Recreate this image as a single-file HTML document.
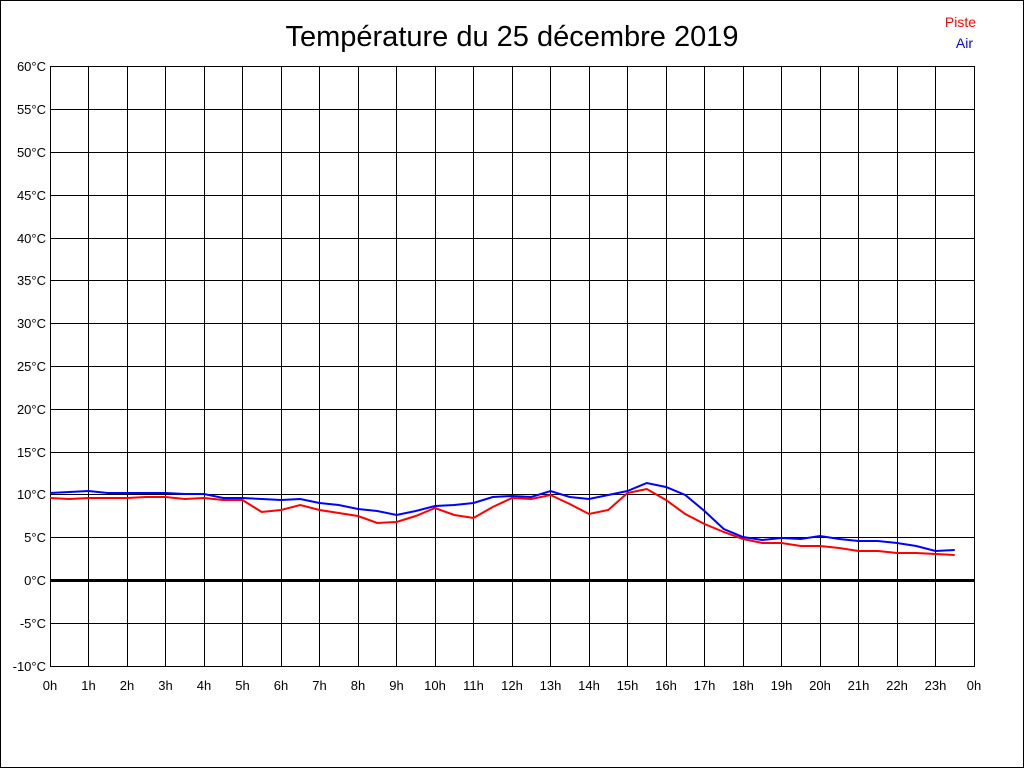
<!DOCTYPE html>
<html><head><meta charset="utf-8"><style>html,body{margin:0;padding:0;background:#fff}svg{display:block}</style></head>
<body>
<svg width="1024" height="768" xmlns="http://www.w3.org/2000/svg" font-family="Liberation Sans, sans-serif">
<rect x="0.5" y="0.5" width="1023" height="767" fill="#fff" stroke="#000"/>
<text x="512" y="46" font-size="29" text-anchor="middle" fill="#000">Température du 25 décembre 2019</text>
<text x="976" y="27" font-size="14" text-anchor="end" fill="#f00">Piste</text>
<text x="973" y="48" font-size="14" text-anchor="end" fill="#00f">Air</text>
<g stroke="#000" stroke-width="1" shape-rendering="crispEdges">
<path d="M50.5 66V666M88.5 66V666M127.5 66V666M165.5 66V666M204.5 66V666M242.5 66V666M281.5 66V666M319.5 66V666M358.5 66V666M396.5 66V666M435.5 66V666M473.5 66V666M512.5 66V666M550.5 66V666M589.5 66V666M627.5 66V666M666.5 66V666M704.5 66V666M743.5 66V666M781.5 66V666M820.5 66V666M858.5 66V666M897.5 66V666M935.5 66V666M974.5 66V666"/>
<path d="M50 66.5H975M50 109.5H975M50 152.5H975M50 195.5H975M50 238.5H975M50 280.5H975M50 323.5H975M50 366.5H975M50 409.5H975M50 452.5H975M50 494.5H975M50 537.5H975M50 623.5H975M50 666.5H975"/>
</g>
<rect x="50" y="579" width="925" height="3" fill="#000"/>
<g font-size="13" text-anchor="end" fill="#000">
<text x="46" y="71">60°C</text><text x="46" y="114">55°C</text><text x="46" y="157">50°C</text><text x="46" y="200">45°C</text><text x="46" y="243">40°C</text><text x="46" y="285">35°C</text><text x="46" y="328">30°C</text><text x="46" y="371">25°C</text><text x="46" y="414">20°C</text><text x="46" y="457">15°C</text><text x="46" y="499">10°C</text><text x="46" y="542">5°C</text><text x="46" y="585">0°C</text><text x="46" y="628">-5°C</text><text x="46" y="671">-10°C</text>
</g>
<g font-size="13" text-anchor="middle" fill="#000">
<text x="50" y="690">0h</text><text x="88.5" y="690">1h</text><text x="127" y="690">2h</text><text x="165.5" y="690">3h</text><text x="204" y="690">4h</text><text x="242.5" y="690">5h</text><text x="281" y="690">6h</text><text x="319.5" y="690">7h</text><text x="358" y="690">8h</text><text x="396.5" y="690">9h</text><text x="435" y="690">10h</text><text x="473.5" y="690">11h</text><text x="512" y="690">12h</text><text x="550.5" y="690">13h</text><text x="589" y="690">14h</text><text x="627.5" y="690">15h</text><text x="666" y="690">16h</text><text x="704.5" y="690">17h</text><text x="743" y="690">18h</text><text x="781.5" y="690">19h</text><text x="820" y="690">20h</text><text x="858.5" y="690">21h</text><text x="897" y="690">22h</text><text x="935.5" y="690">23h</text><text x="974" y="690">0h</text>
</g>
<polyline fill="none" stroke="#f00" stroke-width="2" points="50,498 69.25,499 88.5,498 107.75,498 127,498 146.25,497 165.5,497 184.75,499 204,498 223.25,500 242.5,500 261.75,512 281,510 300.25,505 319.5,510 338.75,513 358,516 377.25,523 396.5,522 415.75,516 435,508 454.25,515 473.5,518 492.75,507 512,498 531.25,499 550.5,495 569.75,504 589,514 608.25,510 627.5,493 646.75,489 666,500 685.25,514 704.5,524 723.75,532 743,539 762.25,543 781.5,543 800.75,546 820,546 839.25,548 858.5,551 877.75,551 897,553 916.25,553 935.5,554 954.75,555"/>
<polyline fill="none" stroke="#00f" stroke-width="2" points="50,493 69.25,492 88.5,491 107.75,493 127,493 146.25,493 165.5,493 184.75,494 204,494 223.25,498 242.5,498 261.75,499 281,500 300.25,499 319.5,503 338.75,505 358,509 377.25,511 396.5,515 415.75,511 435,506 454.25,505 473.5,503 492.75,497 512,496 531.25,497 550.5,491 569.75,497 589,499 608.25,495 627.5,491 646.75,483 666,487 685.25,495 704.5,511 723.75,529 743,537 762.25,540 781.5,538 800.75,539 820,536 839.25,539 858.5,541 877.75,541 897,543 916.25,546 935.5,551 954.75,550"/>
</svg>
</body></html>
